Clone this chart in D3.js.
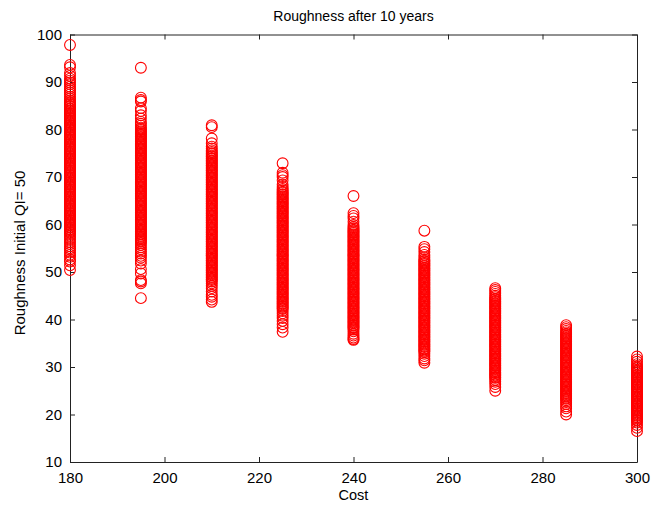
<!DOCTYPE html>
<html>
<head>
<meta charset="utf-8">
<script src="https://cdn.jsdelivr.net/npm/d3@7"></script>
<style>
  body { margin: 0; background: #fff; }
  text { font-family: "Liberation Sans", Arial, sans-serif; fill: #000; }
</style>
</head>
<body>
<div id="chart"></div>
<script>
// cost levels (x) and the roughness values
// (the solid middle of each column is estimated as a dense run of values)
var costs = [180, 195, 210, 225, 240, 255, 270, 285, 300];

var c180 = [97.8, 93.6, 93.1, 91.9, 91.3, 90.7,
  90.3, 89.9, 89.5, 89.0, 88.6, 88.2, 87.8, 87.4, 86.9, 86.5, 86.1,
  85.8, 85.5, 85.3, 85.0, 84.8, 84.5, 84.3, 84.0, 83.8, 83.5, 83.3, 83.0, 82.8, 82.5, 82.3, 82.0, 81.8, 81.5, 81.3, 81.0,
  80.8, 80.5, 80.3, 80.0, 79.8, 79.5, 79.3, 79.0, 78.8, 78.5, 78.3, 78.0, 77.8, 77.5, 77.3, 77.0, 76.8, 76.5, 76.3, 76.0,
  75.8, 75.5, 75.3, 75.0, 74.8, 74.5, 74.3, 74.0, 73.8, 73.5, 73.3, 73.0, 72.8, 72.5, 72.3, 72.0, 71.8, 71.5, 71.3, 71.0,
  70.8, 70.5, 70.3, 70.0, 69.8, 69.5, 69.3, 69.0, 68.8, 68.5, 68.3, 68.0, 67.8, 67.5, 67.3, 67.0, 66.8, 66.5, 66.3, 66.0,
  65.8, 65.5, 65.3, 65.0, 64.8, 64.5, 64.3, 64.0, 63.8, 63.5, 63.3, 63.0, 62.8, 62.5, 62.3, 62.0, 61.8, 61.5, 61.3, 61.0,
  60.8, 60.5, 60.3, 60.0, 59.8, 59.5, 59.3, 59.0, 58.8, 58.5, 58.3, 58.0,
  57.6, 57.2, 56.8, 56.3, 55.9, 55.4, 55.0, 54.6, 54.1, 53.6, 53.2, 52.6, 52.2, 51.4, 50.4];

var c195 = [93.0, 86.7, 86.2, 85.9, 84.5, 83.9, 83.0, 82.3, 81.6, 81.2, 80.8, 80.4,
  80.1, 79.9, 79.6, 79.4, 79.1, 78.9, 78.6, 78.4, 78.1, 77.9, 77.6, 77.4, 77.1, 76.9, 76.6, 76.4, 76.1, 75.9, 75.6, 75.4,
  75.1, 74.9, 74.6, 74.4, 74.1, 73.9, 73.6, 73.4, 73.1, 72.9, 72.6, 72.4, 72.1, 71.9, 71.6, 71.4, 71.1, 70.9, 70.6, 70.4,
  70.1, 69.9, 69.6, 69.4, 69.1, 68.9, 68.6, 68.4, 68.1, 67.9, 67.6, 67.4, 67.1, 66.9, 66.6, 66.4, 66.1, 65.9, 65.6, 65.4,
  65.1, 64.9, 64.6, 64.4, 64.1, 63.9, 63.6, 63.4, 63.1, 62.9, 62.6, 62.4, 62.1, 61.9, 61.6, 61.4, 61.1, 60.9, 60.6, 60.4,
  60.1, 59.9, 59.6, 59.4, 59.1, 58.9, 58.6, 58.4, 58.1, 57.9, 57.6, 57.4, 57.1, 56.9, 56.6, 56.4, 56.1,
  55.7, 55.2, 54.8, 54.3, 53.9, 53.4, 53.0, 52.4, 51.8, 50.6, 49.7, 48.3, 48.0, 47.6, 44.5];

var c210 = [80.9, 80.5, 78.1, 77.1, 76.4, 76.0, 75.6,
  75.3, 75.0, 74.8, 74.5, 74.3, 74.0, 73.8, 73.5, 73.3, 73.0, 72.8, 72.5, 72.3, 72.0, 71.8, 71.5, 71.3, 71.0,
  70.8, 70.5, 70.3, 70.0, 69.8, 69.5, 69.3, 69.0, 68.8, 68.5, 68.3, 68.0, 67.8, 67.5, 67.3, 67.0, 66.8, 66.5, 66.3, 66.0,
  65.8, 65.5, 65.3, 65.0, 64.8, 64.5, 64.3, 64.0, 63.8, 63.5, 63.3, 63.0, 62.8, 62.5, 62.3, 62.0, 61.8, 61.5, 61.3, 61.0,
  60.8, 60.5, 60.3, 60.0, 59.8, 59.5, 59.3, 59.0, 58.8, 58.5, 58.3, 58.0, 57.8, 57.5, 57.3, 57.0, 56.8, 56.5, 56.3, 56.0,
  55.8, 55.5, 55.3, 55.0, 54.8, 54.5, 54.3, 54.0, 53.8, 53.5, 53.3, 53.0, 52.8, 52.5, 52.3, 52.0, 51.8, 51.5, 51.3, 51.0,
  50.8, 50.5, 50.3, 50.0, 49.8, 49.5, 49.3, 49.0, 48.8, 48.5, 48.3, 48.0,
  47.6, 47.1, 46.6, 45.9, 45.2, 44.8, 44.2, 43.7];

var c225 = [72.9, 70.9, 70.4, 70.0, 69.3, 68.4, 67.9, 67.5,
  67.2, 66.9, 66.7, 66.4, 66.2, 65.9, 65.7, 65.4, 65.2, 64.9, 64.7, 64.4, 64.2, 63.9, 63.7, 63.4, 63.2, 62.9, 62.7, 62.4,
  62.2, 61.9, 61.7, 61.4, 61.2, 60.9, 60.7, 60.4, 60.2, 59.9, 59.7, 59.4, 59.2, 58.9, 58.7, 58.4, 58.2, 57.9, 57.7, 57.4,
  57.2, 56.9, 56.7, 56.4, 56.2, 55.9, 55.7, 55.4, 55.2, 54.9, 54.7, 54.4, 54.2, 53.9, 53.7, 53.4, 53.2, 52.9, 52.7, 52.4,
  52.2, 51.9, 51.7, 51.4, 51.2, 50.9, 50.7, 50.4, 50.2, 49.9, 49.7, 49.4, 49.2, 48.9, 48.7, 48.4, 48.2, 47.9, 47.7, 47.4,
  47.2, 46.9, 46.7, 46.4, 46.2, 45.9, 45.7, 45.4, 45.2, 44.9, 44.7, 44.4, 44.2, 43.9, 43.7, 43.4, 43.2, 42.9, 42.7, 42.4, 42.2,
  41.8, 41.3, 40.8, 40.3, 39.7, 39.0, 38.3, 37.4];

var c240 = [66.0, 62.4, 61.8, 61.3, 60.6, 59.9, 59.5,
  59.2, 58.9, 58.7, 58.4, 58.2, 57.9, 57.7, 57.4, 57.2, 56.9, 56.7, 56.4, 56.2, 55.9, 55.7, 55.4, 55.2, 54.9, 54.7, 54.4,
  54.2, 53.9, 53.7, 53.4, 53.2, 52.9, 52.7, 52.4, 52.2, 51.9, 51.7, 51.4, 51.2, 50.9, 50.7, 50.4, 50.2, 49.9, 49.7, 49.4,
  49.2, 48.9, 48.7, 48.4, 48.2, 47.9, 47.7, 47.4, 47.2, 46.9, 46.7, 46.4, 46.2, 45.9, 45.7, 45.4, 45.2, 44.9, 44.7, 44.4,
  44.2, 43.9, 43.7, 43.4, 43.2, 42.9, 42.7, 42.4, 42.2, 41.9, 41.7, 41.4, 41.2, 40.9, 40.7, 40.4, 40.2, 39.9, 39.7, 39.4,
  39.2, 38.9, 38.7, 38.4, 38.2, 37.9,
  37.5, 37.0, 36.6, 36.2, 35.9, 35.7];

var c255 = [58.7, 55.3, 54.8, 54.2, 53.6, 53.1, 52.7,
  52.4, 52.2, 51.9, 51.7, 51.4, 51.2, 50.9, 50.7, 50.4, 50.2, 49.9, 49.7, 49.4, 49.2, 48.9, 48.7, 48.4, 48.2, 47.9, 47.7,
  47.4, 47.2, 46.9, 46.7, 46.4, 46.2, 45.9, 45.7, 45.4, 45.2, 44.9, 44.7, 44.4, 44.2, 43.9, 43.7, 43.4, 43.2, 42.9, 42.7,
  42.4, 42.2, 41.9, 41.7, 41.4, 41.2, 40.9, 40.7, 40.4, 40.2, 39.9, 39.7, 39.4, 39.2, 38.9, 38.7, 38.4, 38.2, 37.9, 37.7,
  37.4, 37.2, 36.9, 36.7, 36.4, 36.2, 35.9, 35.7, 35.4, 35.2, 34.9, 34.7, 34.4, 34.2, 33.9, 33.7, 33.4, 33.2,
  32.8, 32.3, 31.8, 31.4, 30.9];

var c270 = [46.6, 46.2, 45.8, 45.4, 45.0,
  44.7, 44.4, 44.2, 43.9, 43.7, 43.4, 43.2, 42.9, 42.7, 42.4, 42.2, 41.9, 41.7, 41.4, 41.2, 40.9, 40.7, 40.4, 40.2, 39.9,
  39.7, 39.4, 39.2, 38.9, 38.7, 38.4, 38.2, 37.9, 37.7, 37.4, 37.2, 36.9, 36.7, 36.4, 36.2, 35.9, 35.7, 35.4, 35.2, 34.9,
  34.7, 34.4, 34.2, 33.9, 33.7, 33.4, 33.2, 32.9, 32.7, 32.4, 32.2, 31.9, 31.7, 31.4, 31.2, 30.9, 30.7, 30.4, 30.2, 29.9,
  29.7, 29.4, 29.2, 28.9, 28.7, 28.4, 28.2, 27.9, 27.7,
  27.3, 26.9, 26.4, 25.8, 25.0];

var c285 = [38.8, 38.4, 38.0, 37.6,
  37.3, 37.0, 36.8, 36.5, 36.3, 36.0, 35.8, 35.5, 35.3, 35.0, 34.8, 34.5, 34.3, 34.0, 33.8, 33.5, 33.3, 33.0, 32.8, 32.5,
  32.3, 32.0, 31.8, 31.5, 31.3, 31.0, 30.8, 30.5, 30.3, 30.0, 29.8, 29.5, 29.3, 29.0, 28.8, 28.5, 28.3, 28.0, 27.8, 27.5,
  27.3, 27.0, 26.8, 26.5, 26.3, 26.0, 25.8, 25.5, 25.3, 25.0, 24.8, 24.5, 24.3, 24.0, 23.8, 23.5, 23.3, 23.0,
  22.6, 22.2, 21.7, 21.3, 20.6, 20.0];

var c300 = [32.2, 31.6, 31.1, 30.6,
  30.2, 29.9, 29.7, 29.4, 29.2, 28.9, 28.7, 28.4, 28.2, 27.9, 27.7, 27.4, 27.2, 26.9, 26.7, 26.4, 26.2, 25.9, 25.7, 25.4,
  25.2, 24.9, 24.7, 24.4, 24.2, 23.9, 23.7, 23.4, 23.2, 22.9, 22.7, 22.4, 22.2, 21.9, 21.7, 21.4, 21.2, 20.9, 20.7, 20.4,
  20.2, 19.9, 19.7, 19.4, 19.2, 18.9, 18.7,
  18.3, 17.8, 17.2, 16.5];

var columns = [c180, c195, c210, c225, c240, c255, c270, c285, c300];

var xTicks = [180, 200, 220, 240, 260, 280, 300];
var yTicks = [10, 20, 30, 40, 50, 60, 70, 80, 90, 100];

var chartTitle = "Roughness after 10 years",
    xTitle = "Cost",
    yTitle = "Roughness Initial QI= 50";

var width = 653,
    height = 508,
    margin = {top: 34.5, right: 16, bottom: 46, left: 70},
    innerW = width - margin.left - margin.right,
    innerH = height - margin.top - margin.bottom;

var points = [];
columns.forEach(function(col, i) {
  col.forEach(function(v) { points.push({x: costs[i], y: v}); });
});

var x = d3.scaleLinear().domain([180, 300]).range([0, innerW]);
var y = d3.scaleLinear().domain([10, 100]).range([innerH, 0]);

var svg = d3.select("#chart").append("svg")
    .attr("width", width)
    .attr("height", height);

var g = svg.append("g")
    .attr("transform", "translate(" + margin.left + "," + margin.top + ")");

// box + inward ticks on all four sides (matlab style)
g.append("g")
    .attr("class", "axis")
    .attr("transform", "translate(0," + innerH + ")")
    .call(d3.axisBottom(x).tickValues(xTicks).tickSize(-5).tickPadding(10).tickSizeOuter(0));

g.append("g")
    .attr("class", "axis")
    .call(d3.axisLeft(y).tickValues(yTicks).tickSize(-5).tickPadding(8).tickSizeOuter(0));

g.append("g")
    .attr("class", "axis noLabels")
    .call(d3.axisTop(x).tickValues(xTicks).tickSize(-5).tickSizeOuter(0));

g.append("g")
    .attr("class", "axis noLabels")
    .attr("transform", "translate(" + innerW + ",0)")
    .call(d3.axisRight(y).tickValues(yTicks).tickSize(-5).tickSizeOuter(0));

g.selectAll(".noLabels text").remove();
g.selectAll(".axis path, .axis line").style("stroke", "#222").style("stroke-width", "1px");
g.selectAll(".axis text")
    .style("font-family", "'Liberation Sans', Arial, sans-serif")
    .style("font-size", "15px")
    .style("fill", "#000");

g.selectAll("circle.pt")
    .data(points)
    .enter()
  .append("circle")
    .attr("class", "pt")
    .attr("cx", function(d) { return x(d.x); })
    .attr("cy", function(d) { return y(d.y); })
    .attr("r", 5.4)
    .style("fill", "none")
    .style("stroke", "#ff0000")
    .style("stroke-width", "1.1px");

svg.append("text")
    .attr("x", margin.left + innerW / 2)
    .attr("y", 21)
    .attr("text-anchor", "middle")
    .style("font-size", "14px")
    .text(chartTitle);

svg.append("text")
    .attr("x", margin.left + innerW / 2)
    .attr("y", 500)
    .attr("text-anchor", "middle")
    .style("font-size", "14.5px")
    .text(xTitle);

svg.append("text")
    .attr("transform", "translate(25,253) rotate(-90)")
    .attr("text-anchor", "middle")
    .style("font-size", "15px")
    .text(yTitle);
</script>
</body>
</html>
